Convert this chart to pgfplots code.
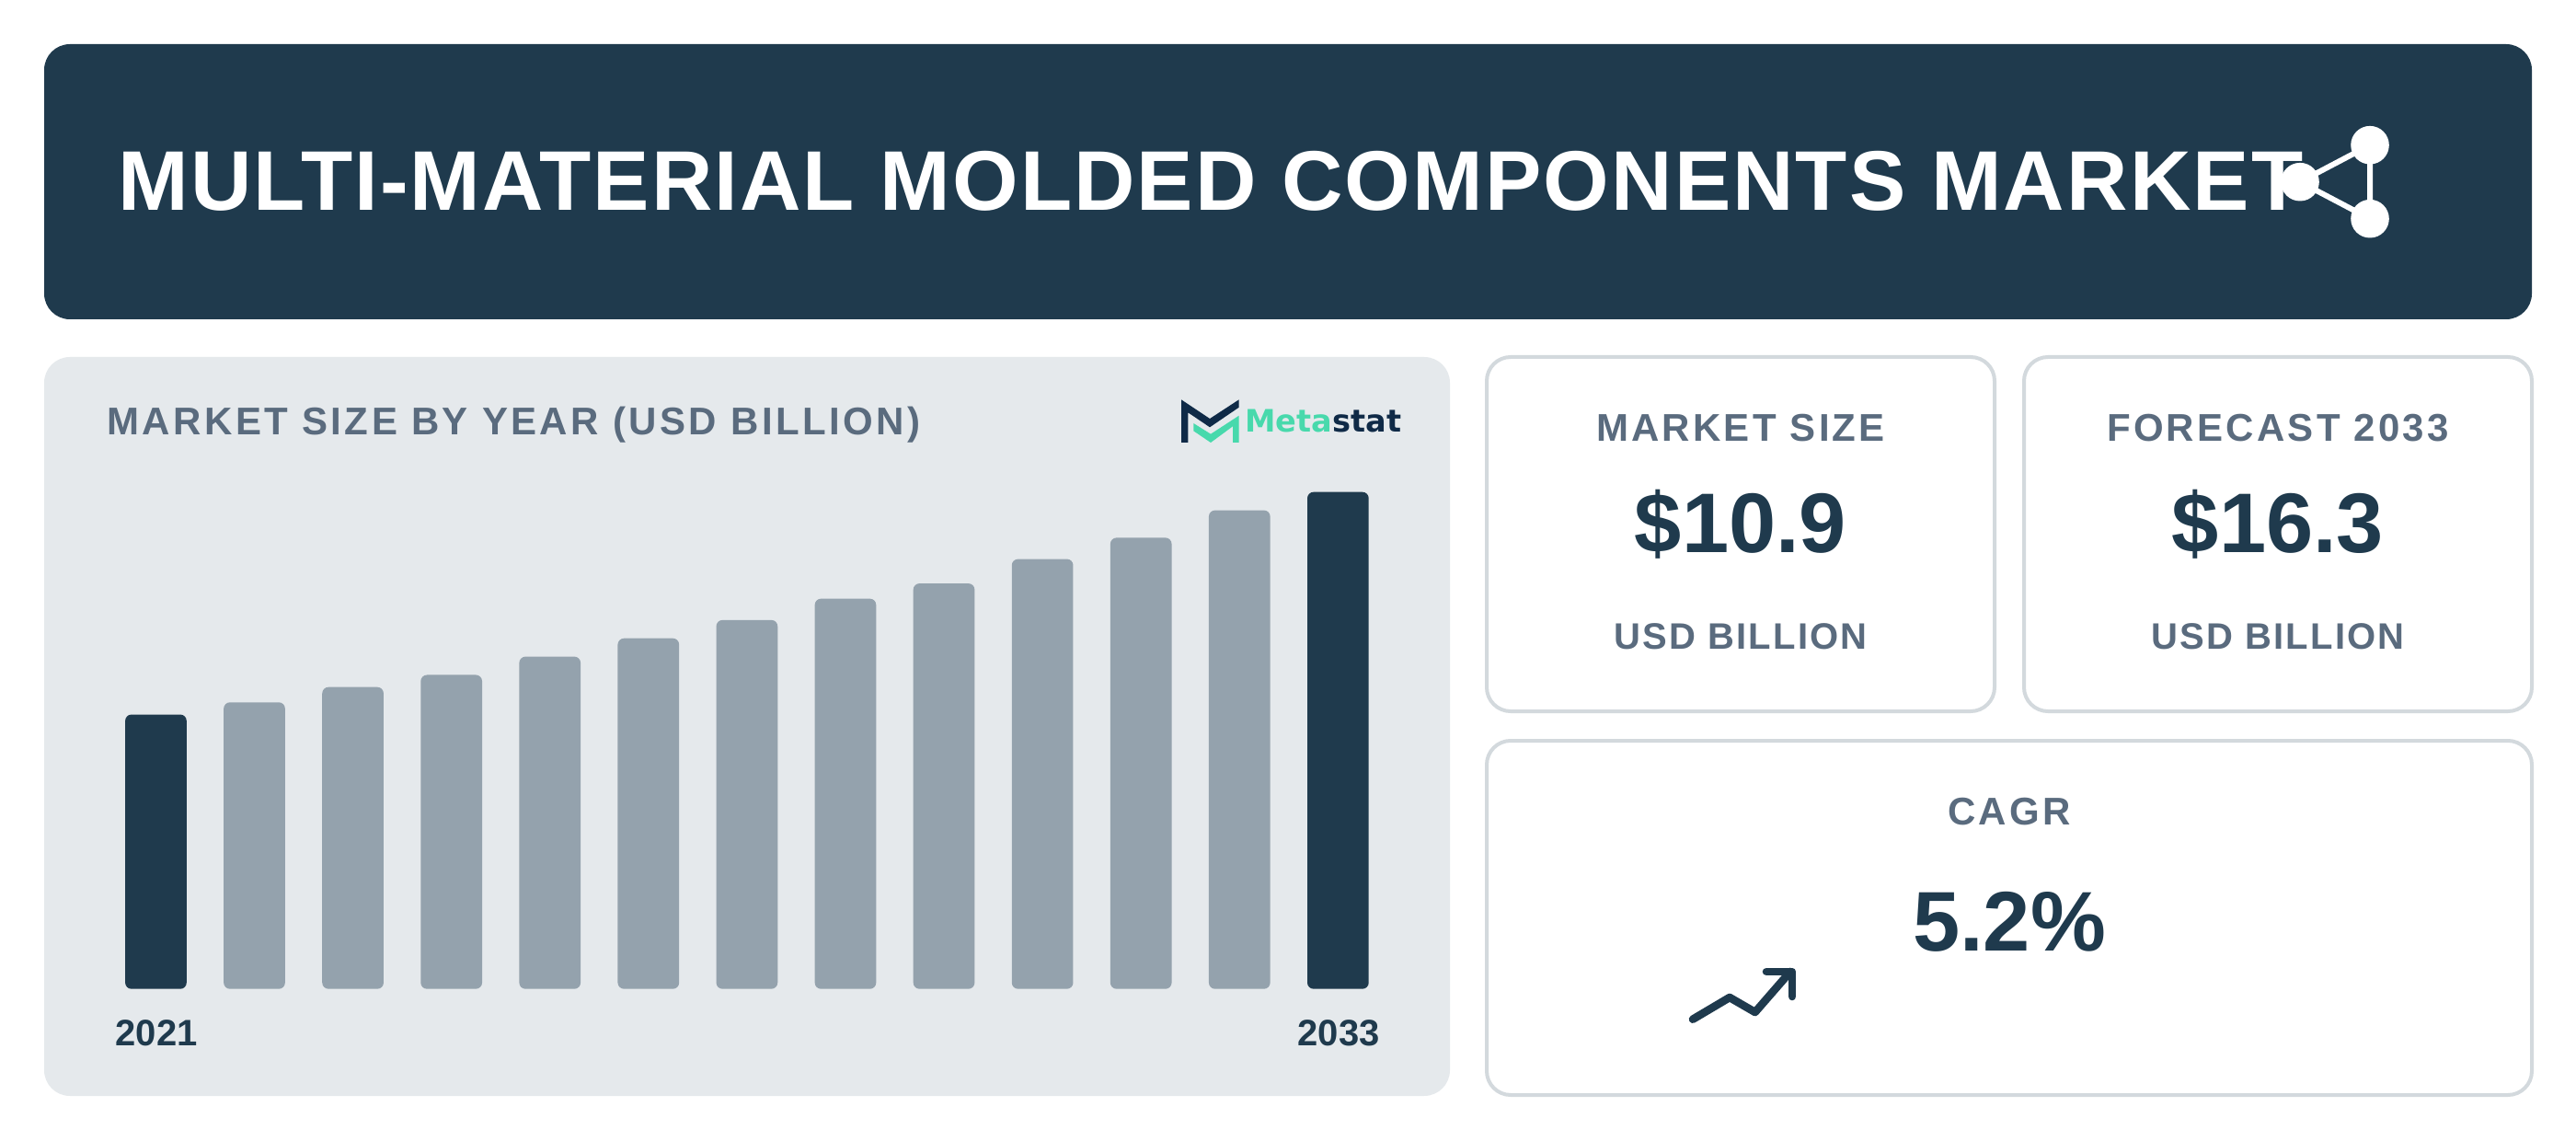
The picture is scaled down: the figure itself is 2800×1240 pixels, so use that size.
\documentclass[border=0pt]{standalone}
\usepackage{pgfplots}
\usepackage{fontspec}
\pgfplotsset{compat=1.18}
\setmainfont{Liberation Sans}
\newfontfamily\lsT[LetterSpace=2.28]{Liberation Sans}
\newfontfamily\lsA[LetterSpace=5.5]{Liberation Sans}
\newfontfamily\lsB[LetterSpace=7.7]{Liberation Sans}
\newfontfamily\lsC[LetterSpace=8.2]{Liberation Sans}
\newfontfamily\logofont{DejaVu Sans}
\definecolor{dark}{HTML}{1F3A4D}
\definecolor{panel}{HTML}{E5E9EC}
\definecolor{barlight}{HTML}{94A2AD}
\definecolor{txtgrey}{HTML}{5A6B7E}
\definecolor{cardline}{HTML}{D3D9DD}
\definecolor{lgreen}{HTML}{48D9AC}
\definecolor{lnavy}{HTML}{0F2A47}
\begin{document}
\begin{tikzpicture}[x=0.5pt,y=-0.5pt]
\useasboundingbox (0,0) rectangle (2800,1240);
\fill[white] (0,0) rectangle (2800,1240);
% panels
\fill[dark,rounded corners=14pt] (48,48) rectangle (2752,347);
\fill[panel,rounded corners=14pt] (48,388) rectangle (1576,1191);
\draw[cardline,line width=2pt,rounded corners=13pt] (1616,388) rectangle (2168,773);
\draw[cardline,line width=2pt,rounded corners=13pt] (2200,388) rectangle (2752,773);
\draw[cardline,line width=2pt,rounded corners=13pt] (1616,805) rectangle (2752,1190);
% header
\node[anchor=base west,inner sep=0,text=white,font={\lsT\bfseries\fontsize{46}{46}\selectfont}] at (128,229) {MULTI-MATERIAL MOLDED COMPONENTS MARKET};
\draw[white,line width=3pt] (2500,197.7) -- (2576,157.7) -- (2576,237.7) -- cycle;
\fill[white] (2500,197.7) circle[radius=10.4pt];
\fill[white] (2576,157.7) circle[radius=10.4pt];
\fill[white] (2576,237.7) circle[radius=10.4pt];
% chart panel title
\node[anchor=base west,inner sep=0,text=txtgrey,font={\lsC\bfseries\fontsize{21}{21}\selectfont}] at (116,472.5) {MARKET SIZE BY YEAR (USD BILLION)};
% logo
\fill[lnavy] (1284,434.3) -- (1315,455) -- (1346.7,434.3) -- (1346.7,442.7) -- (1315,464.3) -- (1291.3,448.3) -- (1291.3,481) -- (1284,481) -- cycle;
\fill[lgreen] (1297.3,460) -- (1316,471.7) -- (1346.7,451.7) -- (1346.7,481) -- (1340,481) -- (1340,463.3) -- (1316,481) -- (1297.3,468.3) -- cycle;
\node[anchor=base west,inner sep=0,font={\logofont\bfseries\fontsize{16.8}{16.8}\selectfont}] at (1353,470) {\textcolor{lgreen}{Meta}\textcolor{lnavy}{stat}};
% cards
\node[anchor=base,inner sep=0,text=txtgrey,font={\lsB\bfseries\fontsize{21}{21}\selectfont}] at (1892,480) {MARKET SIZE};
\node[anchor=base,inner sep=0,text=dark,font={\bfseries\fontsize{46}{46}\selectfont}] at (1892,601) {\$10.9};
\node[anchor=base,inner sep=0,text=txtgrey,font={\lsA\bfseries\fontsize{20}{20}\selectfont}] at (1892,705) {USD BILLION};
\node[anchor=base,inner sep=0,text=txtgrey,font={\lsB\bfseries\fontsize{21}{21}\selectfont}] at (2476,480) {FORECAST 2033};
\node[anchor=base,inner sep=0,text=dark,font={\bfseries\fontsize{46}{46}\selectfont}] at (2476,601) {\$16.3};
\node[anchor=base,inner sep=0,text=txtgrey,font={\lsA\bfseries\fontsize{20}{20}\selectfont}] at (2476,705) {USD BILLION};
\node[anchor=base,inner sep=0,text=txtgrey,font={\lsB\bfseries\fontsize{21}{21}\selectfont}] at (2184,896) {CAGR};
\node[anchor=base,inner sep=0,text=dark,font={\bfseries\fontsize{46}{46}\selectfont}] at (2184,1033) {5.2\%};
\draw[dark,line width=4.3pt,line cap=round,line join=round] (1840,1107.7) -- (1880,1084) -- (1907.7,1100) -- (1946,1056);
\draw[dark,line width=4.3pt,line cap=round,line join=round] (1920,1056) -- (1948,1056) -- (1948,1083);
% bars
\begin{axis}[
  at={(57.95pt,-537.35pt)},anchor=south west,
  scale only axis,width=696pt,height=270pt,
  xmin=-0.5,xmax=12.5,ymin=0,ymax=16.3,
  clip=false,axis line style={draw=none},
  major tick length=0pt,ytick=\empty,
  xtick={0,12},xticklabels={2021,2033},
  xticklabel style={inner sep=0pt,anchor=base,text=dark,font={\bfseries\fontsize{20}{20}\selectfont},yshift=-31pt,xshift=0.4pt},
  ybar,bar width=33.35pt,
]
\addplot[ybar,bar shift=0pt,draw=none,fill=dark,rounded corners=3.4pt] coordinates {(0,9.0)(12,16.3)};
\addplot[ybar,bar shift=0pt,draw=none,fill=barlight,rounded corners=3.4pt] coordinates {(1,9.4)(2,9.9)(3,10.3)(4,10.9)(5,11.5)(6,12.1)(7,12.8)(8,13.3)(9,14.1)(10,14.8)(11,15.7)};
\end{axis}
\end{tikzpicture}
\end{document}
